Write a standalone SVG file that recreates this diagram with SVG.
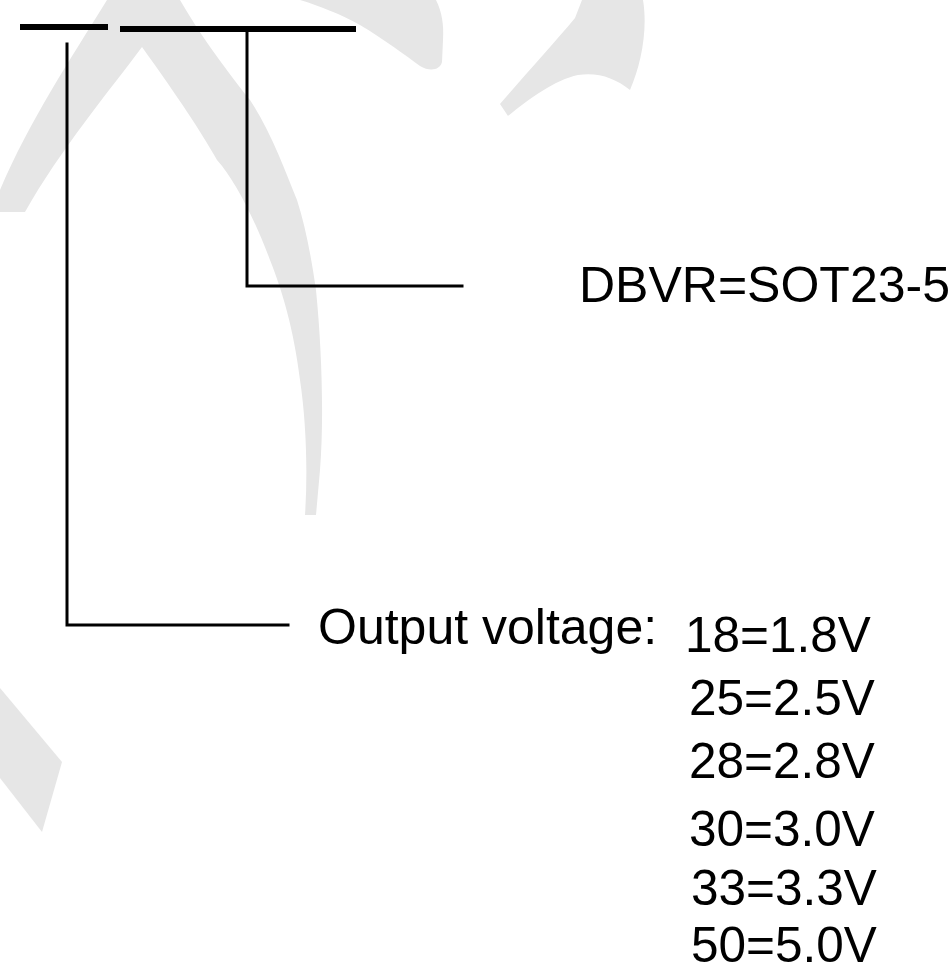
<svg xmlns="http://www.w3.org/2000/svg" width="949" height="964" viewBox="0 0 949 964">
<style>
.wm{fill:#e6e6e6;stroke:none}
.bar{stroke:#000;stroke-width:6;fill:none}
.ln{stroke:#000;stroke-width:3;fill:none;stroke-linecap:square}
.t{font-family:"Liberation Sans",Arial,sans-serif;fill:#000}
.v{font-size:49.5px}
</style>
<rect width="949" height="964" fill="#fff"/>
<g id="watermark">
<path class="wm" d="M107,0 L180,0 C200,35 230,75 250,100 C270,130 285,170 297,200 C305,225 311,255 316,290 C322,350 324,420 320,470 L316,515 L305,515 C308,470 306,420 300,380 C294,330 282,290 270,260 C255,220 235,180 217,160 C200,130 180,100 142,47 C110,90 60,150 25,212 L0,212 L0,190 C30,120 70,60 107,0 Z"/>
<path class="wm" d="M300,0 L436,0 C442,12 444,25 443,40 L442,62 C440,70 430,72 420,66 C405,55 385,40 360,25 C340,14 320,6 300,0 Z"/>
<path class="wm" d="M582,0 L643,0 C648,30 641,65 630,90 C615,78 598,72 578,75 C555,80 530,98 508,116 L500,104 C525,75 555,42 575,18 Z"/>
<path class="wm" d="M0,688 L62,762 L42,832 L0,778 Z"/>
</g>
<g id="connectors">
<line class="bar" x1="20" y1="27" x2="108" y2="27"/>
<line class="bar" x1="120" y1="29" x2="356" y2="29"/>
<polyline class="ln" points="247,30 247,286 462,286"/>
<polyline class="ln" points="67,44 67,625 288,625"/>
</g>
<g id="package">
<text class="t" x="579" y="302" font-size="50">DBVR=SOT23-5</text>
</g>
<g id="voltage">
<text class="t" x="318" y="644" font-size="50">Output voltage:</text>
<text class="t v" x="685" y="652">18=1.8V</text>
<text class="t v" x="689" y="715">25=2.5V</text>
<text class="t v" x="689" y="778">28=2.8V</text>
<text class="t v" x="689" y="846">30=3.0V</text>
<text class="t v" x="691" y="905">33=3.3V</text>
<text class="t v" x="691" y="962">50=5.0V</text>
</g>
</svg>
